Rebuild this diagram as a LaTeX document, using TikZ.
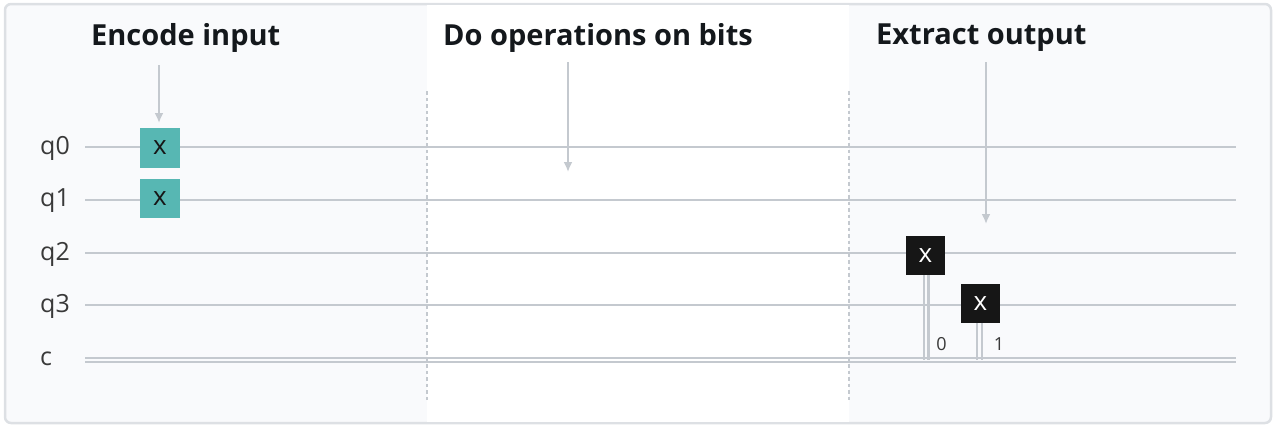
\documentclass[tikz,border=0pt]{standalone}
\usepackage{fontspec}
\setmainfont{Open Sans}
\usepackage{tikz}
\usetikzlibrary{calc,positioning,arrows.meta}
\definecolor{cardbg}{HTML}{F9FAFC}
\definecolor{cardedge}{HTML}{DDE0E4}
\definecolor{wiregrey}{HTML}{C4C9CF}
\definecolor{tealgate}{HTML}{57B7B3}
\definecolor{inkblack}{HTML}{161616}
\definecolor{titleink}{HTML}{14181C}

\begin{document}
\begin{tikzpicture}[x=1pt,y=-1pt]

\tikzset{wire/.style={draw=wiregrey,line width=2.4pt},
pointer/.style={draw=wiregrey,line width=2.2pt,-{Latex[length=10pt,width=9pt]}},
slice/.style={draw=wiregrey,line width=2.5pt,dash pattern=on 3.5pt off 3pt},
title/.style={font=\fontsize{29}{32}\selectfont\bfseries,text=titleink,anchor=west,inner sep=0pt},
qlabel/.style={font=\fontsize{25}{28}\selectfont,text=inkblack!85,anchor=west,inner sep=0pt},
bitlabel/.style={font=\fontsize{18}{20}\selectfont,text=inkblack!85,inner sep=0pt},
tealnode/.style={fill=tealgate,text=inkblack,font=\fontsize{26}{24}\selectfont,inner sep=0pt,minimum size=39.5pt,shape=rectangle},
blacknode/.style={fill=inkblack,text=white,font=\fontsize{26}{24}\selectfont,inner sep=0pt,minimum size=39.5pt,shape=rectangle}}

\useasboundingbox (0,0) rectangle (1280,442);

% Card and middle band
\draw[fill=cardbg,draw=cardedge,line width=2.5pt,rounded corners=6pt] (5,4) rectangle (1271,423);
\fill[white] (427,5) rectangle (849,422);

% Slices
\foreach \x in {427,849} \draw[slice] (\x,91) -- (\x,400);

% Wire ends
\foreach \n/\y in {q0/147,q1/200,q2/253,q3/305} {
  \coordinate (\n in) at (85,\y);
  \coordinate (\n out) at (1236,\y);
}
\coordinate (cin) at (85,360);
\coordinate (cout) at (1236,360);

% Wires
\foreach \n in {q0,q1,q2,q3} \draw[wire] (\n in) -- (\n out);
\foreach \d in {-2.2,2.2} \draw[wire] ([yshift=\d pt]cin) -- ([yshift=\d pt]cout);

% Wire labels
\node[qlabel] (q0label) at (40,148) {q0};
\node[qlabel] (q1label) at (40,201) {q1};
\node[qlabel] (q2label) at (40,254) {q2};
\node[qlabel] (q3label) at (40,306) {q3};
\node[qlabel] (clabel) at (40,359) {c};

% Titles
\node[title] (encode) at (91,38) {Encode input};
\node[title] (operate) at (443,38) {Do operations on bits};
\node[title] (extract) at (876,38) {Extract output};

% Gates
\node[tealnode] (x0) at (160,148) {x};
\node[tealnode] (x1) at (160,198.5) {x};
\node[blacknode] (m0) at (925.5,255.5) {x};
\node[blacknode] (m1) at (980.5,303.5) {x};

% Measure lines
\foreach \d in {-1.5,3} \draw[wire] ([xshift=\d pt]m0.south) -- ([xshift=\d pt]m0.south |- cin);
\foreach \d in {-3.5,1.5} \draw[wire] ([xshift=\d pt]m1.south) -- ([xshift=\d pt]m1.south |- cin);
\node[bitlabel] (bit0) at (941.5,344) {0};
\node[bitlabel] (bit1) at (999,344) {1};

% Arrows
\coordinate (encodefrom) at (159,65);
\coordinate (encodeto) at (159,123);
\coordinate (operatefrom) at (568,62);
\coordinate (operateto) at (568,172);
\coordinate (extractfrom) at (986,62);
\coordinate (extractto) at (986,224);
\foreach \n in {encode,operate,extract} \draw[pointer] (\n from) -- (\n to);

\end{tikzpicture}
\end{document}
